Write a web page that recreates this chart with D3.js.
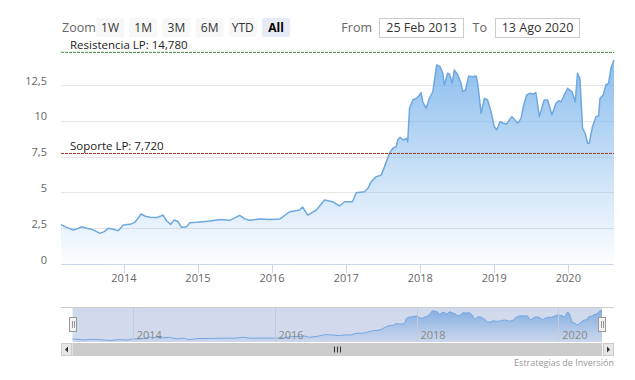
<!DOCTYPE html>
<html>
<head>
<meta charset="utf-8">
<script src="https://cdn.jsdelivr.net/npm/d3@7"></script>
<style>
  body { margin: 0; background: #fff; }
  svg { font-family: "Open Sans", "Noto Sans", sans-serif; }
</style>
</head>
<body>
<div id="chart"></div>
<script>
// price series
var dates = ["2013-02-25","2013-03-25","2013-04-26","2013-05-21","2013-06-07","2013-07-01","2013-07-26",
  "2013-08-20","2013-09-05","2013-09-26","2013-10-16","2013-11-09","2013-12-04","2013-12-29",
  "2014-01-31","2014-02-24","2014-03-12","2014-03-26","2014-04-14","2014-05-09","2014-06-11",
  "2014-07-02","2014-07-13","2014-07-30","2014-08-20","2014-09-06","2014-09-25","2014-10-12",
  "2014-11-06","2014-11-22","2014-12-25","2015-01-26","2015-02-28","2015-04-19","2015-06-07",
  "2015-07-26","2015-08-20","2015-09-13","2015-11-01","2015-12-21","2016-02-08","2016-03-28",
  "2016-05-16","2016-05-31","2016-06-25","2016-08-07","2016-09-16","2016-10-26","2016-11-29",
  "2016-12-24","2017-02-01","2017-02-19","2017-04-01","2017-04-18","2017-05-04","2017-05-29",
  "2017-06-22","2017-07-09","2017-08-02","2017-08-19","2017-09-04","2017-09-12","2017-09-24",
  "2017-10-10","2017-10-24","2017-10-31","2017-11-09","2017-11-25","2017-12-12","2017-12-25",
  "2018-01-05","2018-01-13","2018-01-30","2018-02-15","2018-03-04","2018-03-23","2018-04-09",
  "2018-04-22","2018-04-30","2018-05-16","2018-05-25","2018-06-07","2018-06-18","2018-07-05",
  "2018-07-21","2018-07-29","2018-08-12","2018-08-28","2018-09-14","2018-10-03","2018-10-11",
  "2018-10-28","2018-11-13","2018-11-29","2018-12-16","2019-01-01","2019-01-13","2019-01-29",
  "2019-02-15","2019-03-03","2019-03-16","2019-03-29","2019-04-10","2019-04-26","2019-05-13",
  "2019-05-24","2019-06-09","2019-06-23","2019-07-12","2019-07-25","2019-08-11","2019-09-04",
  "2019-09-21","2019-10-12","2019-11-01","2019-11-14","2019-11-26","2019-12-28","2020-01-19",
  "2020-02-04","2020-02-15","2020-02-27","2020-03-11","2020-03-24","2020-04-05","2020-04-13",
  "2020-04-29","2020-05-16","2020-05-29","2020-06-05","2020-06-21","2020-07-04","2020-07-17",
  "2020-07-29","2020-08-13"];
var values = [2.75,2.56,2.37,2.49,2.6,2.5,2.42,
  2.26,2.14,2.26,2.49,2.42,2.33,2.72,
  2.77,2.91,3.19,3.49,3.35,3.26,3.24,
  3.35,3.42,3.02,2.77,3.07,2.95,2.56,
  2.6,2.88,2.91,2.95,3.0,3.1,3.05,
  3.4,3.15,3.05,3.14,3.1,3.14,3.65,
  3.77,3.98,3.42,3.77,4.47,4.35,4.05,
  4.35,4.35,4.98,5.05,5.29,5.75,6.1,
  6.2,6.8,7.73,8.08,8.19,8.66,8.85,
  8.66,8.78,8.54,10.87,11.45,11.57,11.73,
  11.96,11.33,10.87,11.57,12.03,13.9,13.78,
  13.32,12.5,13.32,13.27,12.62,13.55,13.2,
  12.62,12.03,12.15,13.13,13.08,13.13,12.62,
  10.52,11.57,11.45,10.64,9.59,9.36,9.94,
  9.83,9.78,10.06,10.29,10.1,9.83,10.17,
  10.99,11.8,11.92,11.87,11.96,10.29,11.45,
  11.45,10.41,11.22,11.4,11.33,12.27,12.03,
  11.33,13.32,12.97,9.48,9.13,8.43,8.43,
  9.59,10.29,10.34,11.57,11.8,12.5,12.62,
  13.67,14.25];

var yTicks = [0, 2.5, 5, 7.5, 10, 12.5];
var xTickYears = [2014, 2015, 2016, 2017, 2018, 2019, 2020];
var navYears = [2014, 2016, 2018, 2020];
var zoomButtons = ["1W", "1M", "3M", "6M", "YTD", "All"];
var rangeDates = ["25 Feb 2013", "13 Ago 2020"];
var levelValues = [14.78, 7.72];
var levelLabels = ["Resistencia LP: 14,780", "Soporte LP: 7,720"];

var parse = d3.timeParse("%Y-%m-%d");
var data = dates.map(function (d, i) { return {date: parse(d), value: values[i]}; });

var W = 635, H = 380;
var pLeft = 61, pRight = 614, pTop = 49.2, pBottom = 264;

var svg = d3.select("#chart").append("svg")
    .attr("width", W).attr("height", H);

var defs = svg.append("defs");
var grad = defs.append("linearGradient").attr("id", "fillGrad")
    .attr("gradientUnits", "userSpaceOnUse")
    .attr("x1", 0).attr("x2", 0).attr("y1", pTop).attr("y2", pBottom);
grad.append("stop").attr("offset", 0).attr("stop-color", "#7cb5ec").attr("stop-opacity", 0.92);
grad.append("stop").attr("offset", 1).attr("stop-color", "#7cb5ec").attr("stop-opacity", 0.02);

var x = d3.scaleTime()
    .domain([parse("2013-02-25"), parse("2020-08-13")])
    .range([pLeft, pRight]);
var y = d3.scaleLinear().domain([0, 15]).range([pBottom, pTop]);

var fmt = function (v) { return String(v).replace(".", ","); };

// grid lines
svg.append("g").selectAll("line")
    .data(yTicks.filter(function (t) { return t > 0; }))
    .enter().append("line")
    .attr("x1", pLeft).attr("x2", pRight)
    .attr("y1", function (d) { return Math.round(y(d)) + 0.5; })
    .attr("y2", function (d) { return Math.round(y(d)) + 0.5; })
    .style("stroke", "#e6e6e6");

// y labels
svg.append("g").selectAll("text")
    .data(yTicks)
    .enter().append("text")
    .attr("x", 47)
    .attr("y", function (d) { return y(d) - 0.5; })
    .attr("text-anchor", "end")
    .style("font-size", "11px")
    .style("fill", "#666")
    .text(fmt);

// area + line
var area = d3.area()
    .x(function (d) { return x(d.date); })
    .y0(pBottom)
    .y1(function (d) { return y(d.value); });
var line = d3.line()
    .x(function (d) { return x(d.date); })
    .y(function (d) { return y(d.value); });

svg.append("path").datum(data)
    .attr("d", area)
    .style("fill", "url(#fillGrad)");
svg.append("path").datum(data)
    .attr("d", line)
    .style("fill", "none")
    .style("stroke", "#6fa8df")
    .style("stroke-width", 1.5)
    .style("stroke-linejoin", "round");

// x axis
svg.append("line")
    .attr("x1", pLeft).attr("x2", pRight)
    .attr("y1", pBottom + 0.5).attr("y2", pBottom + 0.5)
    .style("stroke", "#ccd6eb");
var xt = svg.append("g").selectAll("g")
    .data(xTickYears)
    .enter().append("g");
xt.append("line")
    .attr("x1", function (d) { return Math.round(x(new Date(d, 0, 1))) + 0.5; })
    .attr("x2", function (d) { return Math.round(x(new Date(d, 0, 1))) + 0.5; })
    .attr("y1", pBottom).attr("y2", pBottom + 9)
    .style("stroke", "#ccd6eb");
xt.append("text")
    .attr("x", function (d) { return x(new Date(d, 0, 1)); })
    .attr("y", 282)
    .attr("text-anchor", "middle")
    .style("font-size", "11px")
    .style("fill", "#666")
    .text(function (d) { return d; });

// support / resistance lines
var lvlColors = ["#3a873a", "#a3361f"];
levelValues.forEach(function (v, i) {
    svg.append("line")
        .attr("x1", pLeft).attr("x2", pRight)
        .attr("y1", y(v)).attr("y2", y(v))
        .style("stroke", lvlColors[i])
        .style("stroke-dasharray", "3,1");
    svg.append("text")
        .attr("x", 70)
        .attr("y", y(v) - 3.5)
        .style("font-size", "11.5px")
        .style("fill", "#222")
        .text(levelLabels[i]);
});

// range selector
svg.append("text")
    .attr("x", 62).attr("y", 32)
    .style("font-size", "12.5px")
    .style("fill", "#666")
    .text("Zoom");
var btn = svg.append("g").selectAll("g")
    .data(zoomButtons)
    .enter().append("g")
    .attr("transform", function (d, i) { return "translate(" + (96 + i * 33.2) + ",18)"; });
btn.append("rect")
    .attr("width", 28).attr("height", 19).attr("rx", 2)
    .style("fill", function (d) { return d === "All" ? "#e6ebf5" : "#f7f7f7"; });
btn.append("text")
    .attr("x", 14).attr("y", 14)
    .attr("text-anchor", "middle")
    .style("font-size", "12px")
    .style("fill", function (d) { return d === "All" ? "#000" : "#333"; })
    .style("font-weight", function (d) { return d === "All" ? "bold" : "normal"; })
    .text(function (d) { return d; });

var inputs = [{label: "From", lx: 372, bx: 379}, {label: "To", lx: 487, bx: 495}];
inputs.forEach(function (o, i) {
    svg.append("text")
        .attr("x", o.lx).attr("y", 32)
        .attr("text-anchor", "end")
        .style("font-size", "12.5px")
        .style("fill", "#666")
        .text(o.label);
    svg.append("rect")
        .attr("x", o.bx + 0.5).attr("y", 18.5)
        .attr("width", 84).attr("height", 19)
        .style("fill", "#fff")
        .style("stroke", "#cccccc");
    svg.append("text")
        .attr("x", o.bx + 42.5).attr("y", 32)
        .attr("text-anchor", "middle")
        .style("font-size", "12.5px")
        .style("fill", "#333")
        .text(rangeDates[i]);
});

// navigator
var nTop = 307, nBottom = 342, nLeft = 72.5, nRight = 602;
var xn = d3.scaleTime().domain(x.domain()).range([nLeft, nRight]);
var yn = d3.scaleLinear()
    .domain([d3.min(values), d3.max(values)])
    .range([nBottom - 1.5, nTop + 3]);

var ngrad = defs.append("linearGradient").attr("id", "navGrad")
    .attr("gradientUnits", "userSpaceOnUse")
    .attr("x1", 0).attr("x2", 0).attr("y1", nTop).attr("y2", nBottom);
ngrad.append("stop").attr("offset", 0).attr("stop-color", "#7cb5ec").attr("stop-opacity", 0.9);
ngrad.append("stop").attr("offset", 1).attr("stop-color", "#7cb5ec").attr("stop-opacity", 0.05);

var navArea = d3.area()
    .x(function (d) { return xn(d.date); })
    .y0(nBottom)
    .y1(function (d) { return yn(d.value); });
var navLine = d3.line()
    .x(function (d) { return xn(d.date); })
    .y(function (d) { return yn(d.value); });

svg.append("path").datum(data)
    .attr("d", navArea)
    .style("fill", "url(#navGrad)");
svg.append("path").datum(data)
    .attr("d", navLine)
    .style("fill", "none")
    .style("stroke", "#7cb5ec")
    .style("stroke-width", 1);

// mask of the selected range
svg.append("rect")
    .attr("x", nLeft).attr("y", nTop)
    .attr("width", nRight - nLeft).attr("height", nBottom - nTop)
    .style("fill", "rgba(102,133,194,0.3)");

var ng = svg.append("g").selectAll("g")
    .data(navYears)
    .enter().append("g");
ng.append("line")
    .attr("x1", function (d) { return Math.round(xn(new Date(d, 0, 1))) + 0.5; })
    .attr("x2", function (d) { return Math.round(xn(new Date(d, 0, 1))) + 0.5; })
    .attr("y1", nTop).attr("y2", nBottom)
    .style("stroke", "#c3cbdc");
ng.append("text")
    .attr("x", function (d) { return xn(new Date(d, 0, 1)) + 4; })
    .attr("y", 339)
    .style("font-size", "11px")
    .style("fill", "#888")
    .text(function (d) { return d; });

svg.append("line")
    .attr("x1", pLeft).attr("x2", pRight)
    .attr("y1", nTop + 0.5).attr("y2", nTop + 0.5)
    .style("stroke", "#cccccc");

// handles
[nLeft, nRight].forEach(function (hx) {
    var h = svg.append("g").attr("transform", "translate(" + Math.round(hx) + ",317)");
    h.append("rect")
        .attr("x", -3.5).attr("y", 0.5)
        .attr("width", 7).attr("height", 14)
        .style("fill", "#f2f2f2")
        .style("stroke", "#999");
    [-1, 1].forEach(function (o) {
        h.append("line")
            .attr("x1", o + 0.5).attr("x2", o + 0.5)
            .attr("y1", 4).attr("y2", 11)
            .style("stroke", "#999");
    });
});

// scrollbar
var sTop = 343, sH = 13;
svg.append("rect")
    .attr("x", pLeft).attr("y", sTop)
    .attr("width", pRight - pLeft).attr("height", sH)
    .style("fill", "#f2f2f2");
svg.append("rect")
    .attr("x", nLeft).attr("y", sTop)
    .attr("width", nRight - nLeft).attr("height", sH)
    .style("fill", "#cccccc");
[pLeft, pRight - 11].forEach(function (bx, i) {
    svg.append("rect")
        .attr("x", bx + 0.5).attr("y", sTop + 0.5)
        .attr("width", 10).attr("height", sH - 1)
        .style("fill", "#e6e6e6")
        .style("stroke", "#cccccc");
    var cx = bx + 5.5, cy = sTop + sH / 2;
    var pts = i === 0
        ? [[cx + 1.5, cy - 3], [cx + 1.5, cy + 3], [cx - 1.5, cy]]
        : [[cx - 1.5, cy - 3], [cx - 1.5, cy + 3], [cx + 1.5, cy]];
    svg.append("path")
        .attr("d", "M" + pts.join("L") + "Z")
        .style("fill", "#333");
});
var rx = (nLeft + nRight) / 2;
[-3, 0, 3].forEach(function (o) {
    svg.append("line")
        .attr("x1", Math.round(rx + o) + 0.5).attr("x2", Math.round(rx + o) + 0.5)
        .attr("y1", sTop + 3.5).attr("y2", sTop + 9.5)
        .style("stroke", "#333");
});

// credits
svg.append("text")
    .attr("x", pRight).attr("y", 366)
    .attr("text-anchor", "end")
    .style("font-size", "9px")
    .style("fill", "#999")
    .text("Estrategias de Inversión");
</script>
</body>
</html>
